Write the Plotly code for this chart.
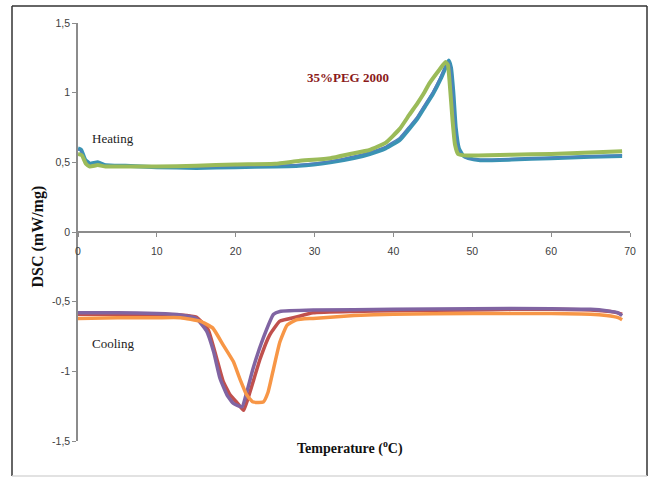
import plotly.graph_objects as go

# ---- Data ----
heat_teal_t = [0, 0.4, 0.9, 1.5, 2.5, 3.5, 6, 10, 15, 20, 25, 28, 32, 35, 37, 39, 40.8, 42, 43, 44, 45, 46, 46.6, 47.0, 47.3, 47.6, 47.9, 48.3, 48.8, 49.5, 51, 55, 60, 65, 69]
heat_teal_v = [0.60, 0.59, 0.52, 0.49, 0.50, 0.48, 0.475, 0.465, 0.46, 0.465, 0.47, 0.475, 0.50, 0.53, 0.56, 0.60, 0.66, 0.74, 0.81, 0.90, 0.99, 1.10, 1.18, 1.23, 1.18, 1.00, 0.75, 0.60, 0.55, 0.53, 0.515, 0.52, 0.53, 0.54, 0.545]

heat_blue_t = [0, 0.4, 0.9, 1.5, 2.5, 3.5, 6, 10, 15, 20, 25, 28, 32, 35, 37, 39, 40.8, 42, 43, 44, 45, 46, 46.6, 47.0, 47.3, 47.6, 47.9, 48.3, 48.8, 49.5, 51, 55, 60, 65, 69]
heat_blue_v = [0.59, 0.58, 0.51, 0.48, 0.49, 0.475, 0.47, 0.465, 0.465, 0.47, 0.478, 0.485, 0.51, 0.545, 0.575, 0.615, 0.68, 0.76, 0.83, 0.92, 1.01, 1.12, 1.19, 1.22, 1.17, 0.98, 0.73, 0.59, 0.545, 0.525, 0.52, 0.525, 0.535, 0.545, 0.55]

heat_green_t = [0, 0.5, 1, 1.5, 2.5, 3.5, 6, 10, 15, 20, 25, 28, 32, 34.5, 37, 39, 40.8, 42, 43, 43.8, 44.6, 45.9, 46.6, 46.9, 47.2, 47.5, 47.8, 48.2, 49, 52, 55, 60, 65, 69]
heat_green_v = [0.56, 0.55, 0.49, 0.47, 0.48, 0.47, 0.47, 0.47, 0.475, 0.485, 0.49, 0.51, 0.53, 0.56, 0.59, 0.64, 0.74, 0.84, 0.92, 0.99, 1.07, 1.17, 1.22, 1.20, 1.02, 0.80, 0.63, 0.56, 0.55, 0.55, 0.555, 0.56, 0.57, 0.58]

cool_red_t = [0, 5, 10, 13, 15, 16.5, 17.6, 18.4, 19.3, 20.1, 21.0, 21.8, 23.1, 24.3, 25.6, 27.7, 29.8, 35, 40, 50, 55, 60, 65, 68, 69]
cool_red_v = [-0.59, -0.59, -0.59, -0.595, -0.61, -0.70, -0.91, -1.07, -1.17, -1.22, -1.28, -1.15, -0.91, -0.74, -0.64, -0.61, -0.58, -0.57, -0.565, -0.56, -0.555, -0.555, -0.56, -0.575, -0.59]

cool_purple_t = [0, 5, 10, 13, 15, 16.3, 17.2, 18.0, 18.9, 19.7, 20.8, 21.4, 22.2, 23.5, 24.8, 25.6, 30, 40, 50, 60, 65, 67, 68.5, 69]
cool_purple_v = [-0.58, -0.58, -0.585, -0.595, -0.62, -0.71, -0.86, -1.05, -1.17, -1.23, -1.255, -1.15, -0.98, -0.76, -0.59, -0.57, -0.56, -0.555, -0.55, -0.55, -0.555, -0.565, -0.58, -0.60]

cool_orange_t = [0, 5, 10, 13, 15.5, 17.1, 18.4, 19.7, 20.5, 21.4, 22.2, 23.5, 24.1, 24.8, 25.6, 26.5, 27.7, 29.8, 35, 40, 50, 60, 65, 67, 68.5, 69]
cool_orange_v = [-0.62, -0.615, -0.615, -0.615, -0.64, -0.69, -0.81, -0.93, -1.05, -1.17, -1.22, -1.22, -1.15, -0.98, -0.79, -0.67, -0.63, -0.62, -0.60, -0.59, -0.585, -0.585, -0.59, -0.60, -0.615, -0.63]

y_tick_vals = [1.5, 1, 0.5, 0, -0.5, -1, -1.5]
y_tick_text = ["1,5", "1", "0,5", "0", "-0,5", "-1", "-1,5"]
x_tick_vals = [0, 10, 20, 30, 40, 50, 60, 70]

fig = go.Figure()

def add(t, v, color, width):
    fig.add_trace(go.Scatter(x=t, y=v, mode="lines", line=dict(color=color, width=width, shape="spline", smoothing=0.4),
                             showlegend=False, hoverinfo="skip"))

add(heat_teal_t, heat_teal_v, "#3A93B3", 4)
add(heat_blue_t, heat_blue_v, "#4F81BD", 1.5)
add(heat_green_t, heat_green_v, "#9BBB59", 4)
add(cool_red_t, cool_red_v, "#C0504D", 3.5)
add(cool_purple_t, cool_purple_v, "#8064A2", 3.5)
add(cool_orange_t, cool_orange_v, "#F79646", 3.5)

tick_font = dict(family="Liberation Sans", size=10.5, color="#404040")
serif = "Liberation Serif"

fig.update_layout(
    width=648, height=477,
    margin=dict(l=78, r=18, t=23, b=36),
    paper_bgcolor="white", plot_bgcolor="white",
    xaxis=dict(range=[0, 70], tickvals=x_tick_vals, anchor="free", position=0.5,
               showline=True, linecolor="#8C8C8C", linewidth=1.5, ticks="outside", ticklen=4,
               tickcolor="#8C8C8C", showgrid=False, zeroline=False, tickfont=tick_font, ticklabelstandoff=6),
    yaxis=dict(range=[-1.5, 1.5], tickvals=y_tick_vals, ticktext=y_tick_text,
               showline=True, linecolor="#8C8C8C", linewidth=1.5, ticks="outside", ticklen=4,
               tickcolor="#8C8C8C", showgrid=False, zeroline=False, tickfont=tick_font),
)

def px(xp):
    return (xp - 78) / 552

def py(yp):
    return (441 - yp) / 418

def note(x, y, text, size, color, angle=0):
    fig.add_annotation(x=px(x), y=py(y), xref="paper", yref="paper", text=text, showarrow=False,
                       xanchor="center", yanchor="middle", textangle=angle,
                       font=dict(family=serif, size=size, color=color))

note(37.5, 236, "<b>DSC (mW/mg)</b>", 16, "#111111", angle=-90)
note(350, 447, "<b>Temperature (<sup>o</sup>C)</b>", 14, "#111111")
note(348, 78, "<b>35%PEG 2000</b>", 13, "#8B1A1A")
note(113, 138, "Heating", 13, "#222222")
note(113, 343, "Cooling", 13, "#222222")

# Outer frame
xl, xr = px(12), px(647)
yt, yb = py(6), py(476)
for x0, y0, x1, y1, c in [(xl, yb, xl, yt, "#333333"), (xl, yt, xr, yt, "#333333"),
                          (xr, yt, xr, yb, "#333333"), (xl, yb, xr, yb, "#D9D9D9")]:
    fig.add_shape(type="line", xref="paper", yref="paper", x0=x0, y0=y0, x1=x1, y1=y1,
                  line=dict(color=c, width=1.5))

fig.write_html("out.html")
